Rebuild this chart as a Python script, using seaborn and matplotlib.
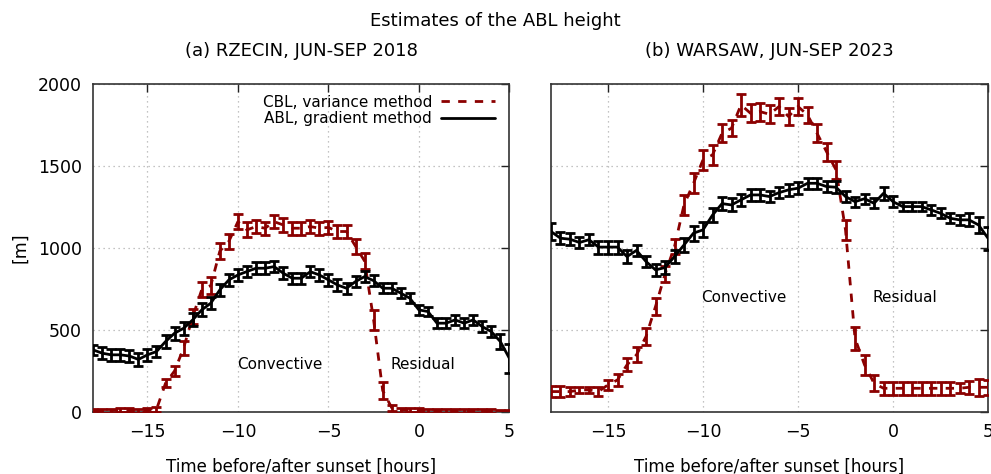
import numpy as np
import pandas as pd
import matplotlib
matplotlib.use("Agg")
import matplotlib.pyplot as plt
from matplotlib.lines import Line2D
import seaborn as sns

# Hours relative to sunset (half-hour steps)
hours = [-18.0, -17.5, -17.0, -16.5, -16.0, -15.5, -15.0, -14.5,
         -14.0, -13.5, -13.0, -12.5, -12.0, -11.5, -11.0, -10.5,
         -10.0, -9.5, -9.0, -8.5, -8.0, -7.5, -7.0, -6.5,
         -6.0, -5.5, -5.0, -4.5, -4.0, -3.5, -3.0, -2.5,
         -2.0, -1.5, -1.0, -0.5, 0.0, 0.5, 1.0, 1.5,
         2.0, 2.5, 3.0, 3.5, 4.0, 4.5, 5.0]

# (a) Rzecin 2018
rz_abl = [378, 358, 348, 348, 341, 320, 348, 368,
          429, 480, 510, 561, 622, 663, 744, 805,
          835, 856, 876, 876, 886, 846, 815, 815,
          855, 835, 805, 774, 754, 795, 825, 800,
          754, 754, 724, 693, 622, 612, 541, 541,
          561, 541, 561, 520, 490, 429, 327]
rz_abl_err = [30, 35, 35, 35, 35, 40, 35, 35,
              40, 40, 40, 40, 40, 35, 35, 35,
              35, 35, 35, 35, 35, 35, 35, 35,
              35, 35, 35, 35, 35, 35, 35, 35,
              30, 30, 30, 30, 30, 30, 30, 30,
              30, 30, 30, 35, 35, 45, 90]
rz_cbl = [5, 5, 8, 12, 10, 8, 12, 15,
          175, 250, 390, 580, 745, 770, 980, 1040,
          1160, 1110, 1130, 1120, 1160, 1140, 1120, 1120,
          1130, 1120, 1125, 1100, 1100, 1010, 920, 560,
          130, 25, 10, 10, 10, 8, 5, 5,
          5, 5, 8, 8, 5, 2, 0]
rz_cbl_err = [12, 12, 12, 12, 12, 12, 12, 15,
              25, 30, 40, 45, 45, 50, 50, 45,
              45, 45, 40, 40, 40, 40, 40, 40,
              40, 40, 40, 40, 40, 45, 50, 60,
              50, 20, 15, 12, 12, 12, 12, 12,
              12, 12, 12, 12, 12, 12, 12]

# (b) Warsaw 2023
wa_abl = [1100, 1059, 1053, 1033, 1050, 1005, 1005, 1005,
          947, 985, 917, 866, 880, 947, 1018, 1090,
          1110, 1200, 1270, 1262, 1293, 1323, 1323, 1313,
          1337, 1354, 1364, 1394, 1394, 1374, 1370, 1313,
          1282, 1300, 1272, 1333, 1282, 1252, 1252, 1252,
          1232, 1211, 1181, 1171, 1171, 1140, 1059]
wa_abl_err = [50, 35, 35, 35, 35, 40, 40, 40,
              40, 35, 35, 35, 40, 40, 45, 45,
              45, 45, 40, 40, 35, 35, 35, 35,
              35, 35, 35, 35, 35, 35, 35, 35,
              30, 30, 30, 40, 35, 30, 30, 30,
              30, 30, 30, 30, 40, 50, 70]
wa_cbl = [124, 124, 124, 134, 134, 124, 165, 195,
          287, 348, 459, 642, 840, 1008, 1262, 1394,
          1537, 1567, 1699, 1730, 1872, 1821, 1831, 1815,
          1862, 1801, 1862, 1811, 1699, 1587, 1476, 1110,
          449, 287, 175, 144, 144, 144, 144, 144,
          144, 144, 144, 144, 150, 150, 150]
wa_cbl_err = [35, 35, 30, 20, 20, 30, 30, 35,
              40, 45, 50, 50, 50, 45, 60, 60,
              60, 60, 55, 50, 65, 55, 55, 55,
              50, 50, 50, 50, 55, 55, 55, 60,
              70, 60, 50, 40, 40, 40, 40, 40,
              40, 40, 40, 30, 40, 50, 45]

panel_titles = ["(a) RZECIN, JUN-SEP 2018", "(b) WARSAW, JUN-SEP 2023"]
region_labels = ["Convective", "Residual"]
label_pos = [[(-7.7, 290), (0.2, 290)], [(-7.85, 695), (0.6, 695)]]
xticks = [-15, -10, -5, 0, 5]
yticks = [0, 500, 1000, 1500, 2000]

RED = "#8b0000"
BLACK = "#000000"

sns.set_theme(style="white")
plt.rcParams["font.family"] = ["DejaVu Sans"]
plt.rcParams.update({"text.color": "black", "axes.labelcolor": "black",
                     "xtick.color": "black", "ytick.color": "black"})

fig = plt.figure(figsize=(9.91, 4.74), dpi=100)
axes = [fig.add_axes([0.094, 0.131, 0.420, 0.692]),
        fig.add_axes([0.556, 0.131, 0.441, 0.692])]

datasets = [
    (rz_cbl, rz_cbl_err, rz_abl, rz_abl_err),
    (wa_cbl, wa_cbl_err, wa_abl, wa_abl_err),
]

for i, (ax, (cbl, cbl_e, abl, abl_e)) in enumerate(zip(axes, datasets)):
    df = pd.DataFrame({"hours": hours, "cbl": cbl, "cbl_err": cbl_e,
                       "abl": abl, "abl_err": abl_e})
    ax.grid(True, linestyle=(0, (1, 3)), color="#b0b0b0", lw=0.9, zorder=0)

    # variance-method CBL: dashed dark red with error bars
    sns.lineplot(data=df, x="hours", y="cbl", ax=ax, color=RED, lw=2.0,
                 linestyle=(0, (3, 3)), zorder=3)
    ax.errorbar(df["hours"], df["cbl"], yerr=df["cbl_err"], fmt="none",
                ecolor=RED, elinewidth=2.0, capsize=3.5, capthick=2.0, zorder=3)

    # gradient-method ABL: solid black with error bars
    sns.lineplot(data=df, x="hours", y="abl", ax=ax, color=BLACK, lw=2.0,
                 zorder=4)
    ax.errorbar(df["hours"], df["abl"], yerr=df["abl_err"], fmt="none",
                ecolor=BLACK, elinewidth=2.0, capsize=3.5, capthick=2.0, zorder=4)

    ax.set_xlim(-18, 5)
    ax.set_ylim(0, 2000)
    ax.set_xticks(xticks)
    ax.set_yticks(yticks)
    ax.tick_params(axis="both", which="both", direction="in", length=6,
                   width=1.0, top=True, right=True, labelsize=12.5,
                   color="#222222", pad=8)
    ax.set_title(panel_titles[i], fontsize=13, pad=20)
    ax.set_xlabel("Time before/after sunset [hours]", fontsize=12, labelpad=12)
    for sp in ax.spines.values():
        sp.set_color("#333333")
        sp.set_linewidth(1.2)
    for (tx, ty), lab in zip(label_pos[i], region_labels):
        ax.text(tx, ty, lab, ha="center", va="center", fontsize=11, zorder=5)

axes[0].set_ylabel("[m]", fontsize=12.5, labelpad=6)
axes[1].set_ylabel("")
axes[1].set_yticklabels([])

handles = [Line2D([], [], color=RED, lw=2.0, linestyle=(0, (3, 3))),
           Line2D([], [], color=BLACK, lw=2.0)]
axes[0].legend(handles, ["CBL, variance method", "ABL, gradient method"],
               loc="upper right", frameon=False, markerfirst=False,
               fontsize=11, handlelength=3.5, handletextpad=0.6,
               labelspacing=0.1, borderaxespad=0.3,
               bbox_to_anchor=(0.99, 1.0))

fig.suptitle("Estimates of the ABL height", fontsize=13, y=0.975)

fig.savefig("out.png", dpi=100)
